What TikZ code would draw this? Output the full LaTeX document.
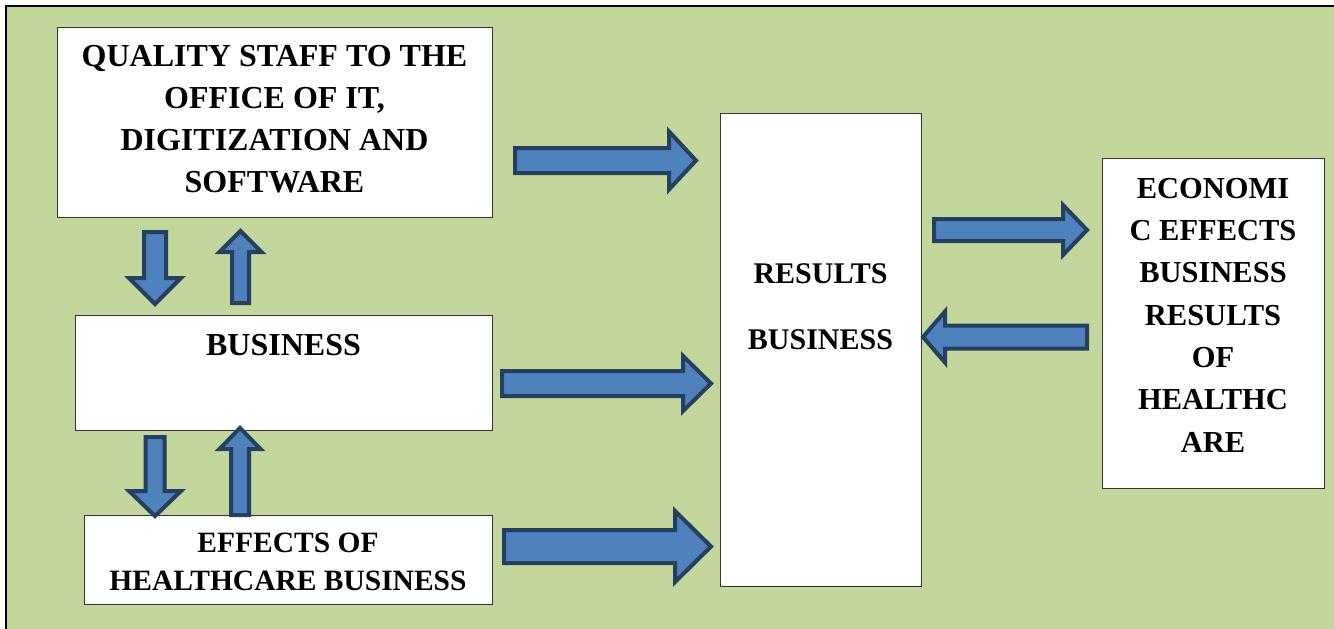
\documentclass[tikz,border=0pt]{standalone}
\usepackage{fontspec}
\setmainfont{Liberation Serif}
\definecolor{bggreen}{HTML}{C3D69B}
\definecolor{arrowfill}{HTML}{4F81BD}
\definecolor{arrowline}{HTML}{243F60}
\definecolor{boxgray}{HTML}{333333}
\newcommand{\harrow}[6]{% tail x, tip x, centre y, shaft half, head half, head length (signed)
  \draw[barrow] (#1,{#3-#4}) -- ({#2-(#6)},{#3-#4}) -- ({#2-(#6)},{#3-#5}) -- (#2,#3)
    -- ({#2-(#6)},{#3+#5}) -- ({#2-(#6)},{#3+#4}) -- (#1,{#3+#4}) -- cycle;}
\newcommand{\varrow}[6]{% centre x, tail y, tip y, shaft half, head half, head length (signed)
  \draw[barrow] ({#1-#4},#2) -- ({#1-#4},{#3-(#6)}) -- ({#1-#5},{#3-(#6)}) -- (#1,#3)
    -- ({#1+#5},{#3-(#6)}) -- ({#1+#4},{#3-(#6)}) -- ({#1+#4},#2) -- cycle;}
\begin{document}
\begin{tikzpicture}[x=1pt,y=-1pt,
  box/.style={draw=boxgray, line width=1.3pt, fill=white, inner sep=0pt, anchor=north west},
  txt/.style={font=\fontsize{30}{42}\selectfont\bfseries, align=center, inner sep=0pt},
  barrow/.style={draw=arrowline, fill=arrowfill, line width=4pt, line join=miter}]
\useasboundingbox (0,0) rectangle (1334,629);
% background and frame
\fill[bggreen] (6,6) rectangle (1334,629);
\draw[black, line width=2.2pt] (6,629) -- (6,6) -- (1334,6);
% boxes
\node[box, minimum width=435pt, minimum height=190pt] (quality) at (57,27) {};
\node[box, minimum width=417pt, minimum height=115pt] (business) at (75,315) {};
\node[box, minimum width=408pt, minimum height=89pt] (effects) at (84,515) {};
\node[box, minimum width=201pt, minimum height=473pt] (results) at (720,113) {};
\node[box, minimum width=222pt, minimum height=330pt] (economic) at (1102,158) {};
% texts
\node[txt, font=\fontsize{32}{42}\selectfont\bfseries] (qualitytext) at (274.5,119) {QUALITY STAFF TO THE\\OFFICE OF IT,\\DIGITIZATION AND\\SOFTWARE};
\node[txt, font=\fontsize{32}{42}\selectfont\bfseries] (businesstext) at (283.5,345) {BUSINESS};
\node[txt, font=\fontsize{29.5}{38}\selectfont\bfseries] (effectstext) at (288,562) {EFFECTS OF\\HEALTHCARE BUSINESS};
\node[txt] (resultstext) at (820.5,307) {RESULTS\\[24pt]BUSINESS};
\node[txt, font=\fontsize{30.5}{42.3}\selectfont\bfseries] (economictext) at (1213,315) {ECONOMI\\C EFFECTS\\BUSINESS\\RESULTS\\OF\\HEALTHC\\ARE};
% horizontal block arrows
\harrow{515}{696}{160.5}{12.5}{29}{27}
\harrow{502}{711}{383.5}{12.5}{27.5}{28}
\harrow{504}{711}{546.5}{16.5}{35.5}{36}
\harrow{934}{1087}{230}{11}{25}{24}
\harrow{1087}{923}{337}{11.5}{25.5}{-22}
% vertical block arrows
\varrow{155}{232}{304}{11}{26}{26}
\varrow{240.5}{303}{231}{8.5}{21}{-21}
\varrow{155}{437}{516}{9.5}{26}{25}
\varrow{240}{515}{428}{9}{20.5}{-21}
\end{tikzpicture}
\end{document}
